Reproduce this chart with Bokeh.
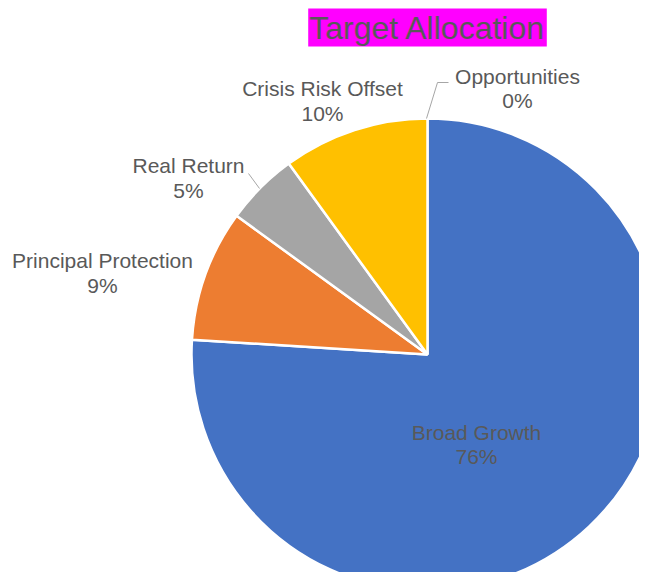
import math
from bokeh.plotting import figure
from bokeh.models import Range1d, Label, ColumnDataSource
from bokeh.core.properties import value
from bokeh.embed import file_html
from bokeh.resources import INLINE

# ---- data ----
categories = ["Broad Growth", "Principal Protection", "Real Return", "Crisis Risk Offset", "Opportunities"]
shares = [76, 9, 5, 10, 0]
colors = ["#4472C4", "#ED7D31", "#A5A5A5", "#FFC000", "#5B9BD5"]
title_text = "Target Allocation"

# ---- layout (picture pixel coordinates) ----
W, H = 639, 572
def px(x):
    return x
def py(y):
    return H - y

cx, cy, R = px(427), py(354), 236
# label centers: x, name line y, percent line y
label_pos = {
    "Broad Growth": (476, 432, 456),
    "Principal Protection": (102, 260, 285),
    "Real Return": (188, 165, 190),
    "Crisis Risk Offset": (322, 88, 113),
    "Opportunities": (517, 76, 100),
}
leaders = {
    "Opportunities": [(426, 118), (437, 82), (448, 82)],
    "Real Return": [(248, 173), (259, 188)],
}

p = figure(width=W, height=H, output_backend="svg", toolbar_location=None,
           x_range=Range1d(0, W), y_range=Range1d(0, H), min_border=0)
p.axis.visible = False
p.grid.visible = False
p.outline_line_color = None
p.background_fill_color = "white"
p.border_fill_color = "white"

total = sum(shares)
starts, ends = [], []
a = math.pi / 2
for s in shares:
    starts.append(a)
    a -= s / total * 2 * math.pi
    ends.append(a)

nonzero = [i for i, s in enumerate(shares) if s > 0]
src_nz = ColumnDataSource(dict(start=[starts[i] for i in nonzero], end=[ends[i] for i in nonzero],
                               color=[colors[i] for i in nonzero]))
p.wedge(x=cx, y=cy, radius=R, start_angle="start", end_angle="end", direction="clock",
        fill_color="color", line_color="white", line_width=2.5, source=src_nz)

font = value("Liberation Sans")
for cat, s in zip(categories, shares):
    x, y1, y2 = label_pos[cat]
    p.text(x=[px(x)], y=[py(y1)], text=[cat], text_font=font, text_font_size="21px",
           text_color="#595959", text_align="center", text_baseline="middle")
    p.text(x=[px(x)], y=[py(y2)], text=[f"{s}%"], text_font=font, text_font_size="21px",
           text_color="#595959", text_align="center", text_baseline="middle")

for cat, pts in leaders.items():
    p.line(x=[px(a) for a, b in pts], y=[py(b) for a, b in pts], line_color="#A6A6A6", line_width=1)

t = Label(x=px(427), y=py(27), text=title_text, text_font="Liberation Sans", text_font_size="32px",
          text_color="#595959", text_align="center", text_baseline="middle",
          background_fill_color="#FF00FF", padding=1)
p.add_layout(t)

open("out.html", "w").write(file_html(p, INLINE))
